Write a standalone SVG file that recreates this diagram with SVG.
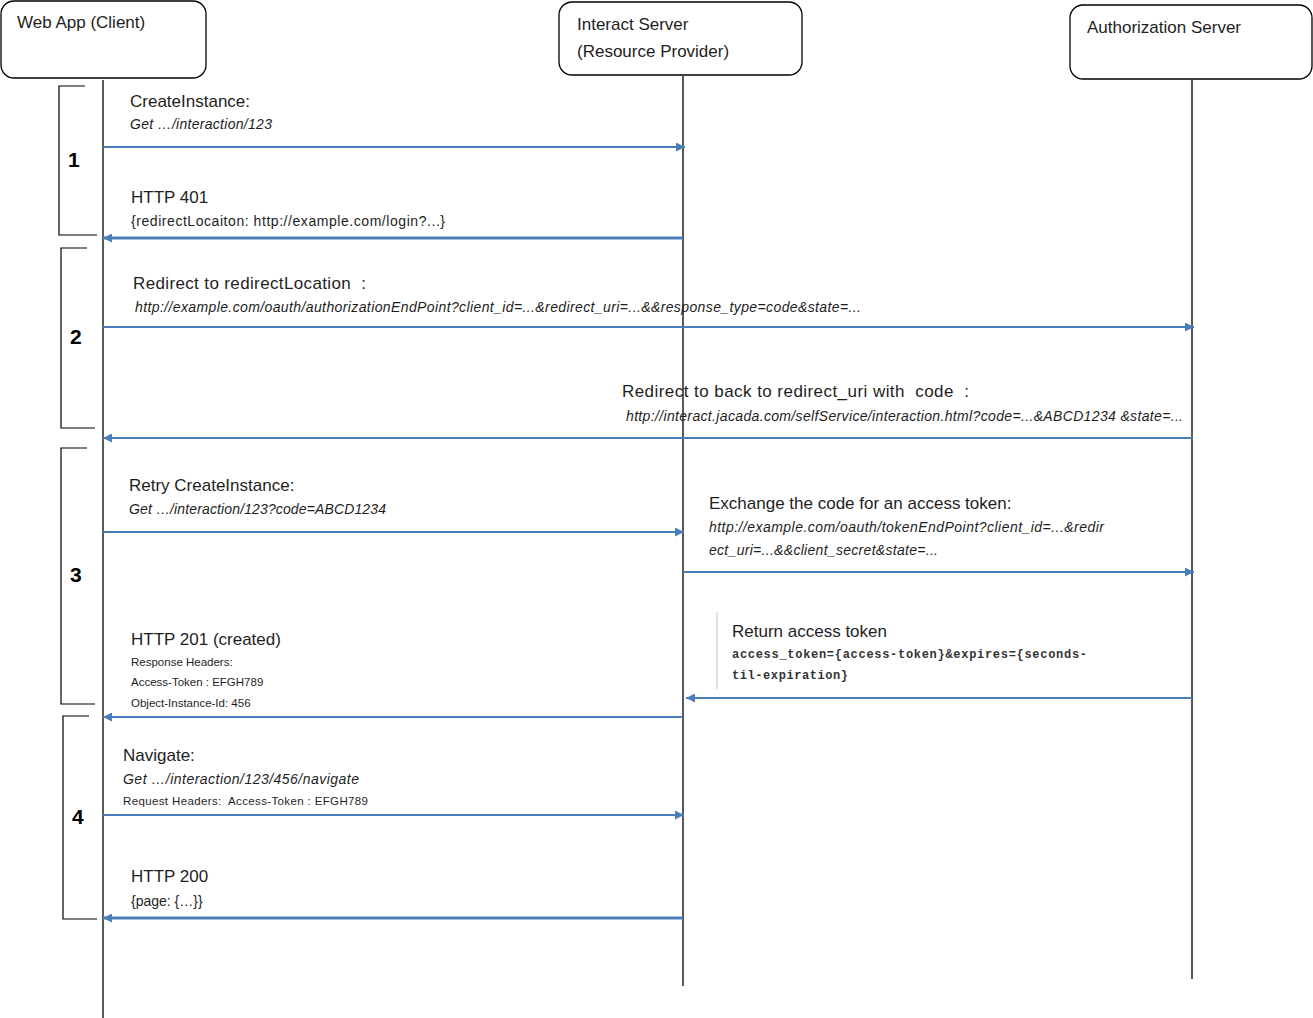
<svg xmlns="http://www.w3.org/2000/svg" width="1313" height="1018" viewBox="0 0 1313 1018">
<defs>
<marker id="ah" viewBox="0 0 10 10" refX="10" refY="5" markerWidth="11" markerHeight="9" markerUnits="userSpaceOnUse" orient="auto">
<path d="M0,0 L10,5 L0,10 z" fill="#4a7ebb"/>
</marker>
<style>
.box{fill:#fff;stroke:#000;stroke-width:1.3}
.life{stroke:#000;stroke-width:1.3;fill:none}
.br{stroke:#000;stroke-width:1.2;fill:none}
.msg{stroke:#4a7ebb;stroke-width:2;fill:none;marker-end:url(#ah)}
.thick{stroke-width:3}
.t{font-family:"Liberation Sans",Arial,sans-serif;fill:#1e1e1e;white-space:pre}
.h{font-size:17px}
.l{font-size:17px}
.u{font-size:14px;font-style:italic}
.p{font-size:14px}
.s{font-size:11.5px}
.n{font-family:"Liberation Sans",Arial,sans-serif;font-size:21px;font-weight:bold;fill:#000}
.m{font-family:"Liberation Mono","Courier New",monospace;font-size:12px;font-weight:bold;fill:#333}
</style>
</defs>

<g id="webapp">
<rect class="box" x="1" y="1" width="205" height="77" rx="13"/>
<text class="t h" x="17" y="28">Web App (Client)</text>
</g>
<g id="interact">
<rect class="box" x="559" y="2" width="243" height="73" rx="13"/>
<text class="t h" x="577" y="30">Interact Server</text>
<text class="t h" x="577" y="57">(Resource Provider)</text>
</g>
<g id="auth">
<rect class="box" x="1070" y="5" width="242" height="74" rx="13"/>
<text class="t h" x="1087" y="33">Authorization Server</text>
</g>

<g id="lifelines">
<line class="life" x1="103" y1="80" x2="103" y2="1018"/>
<line class="life" x1="683" y1="76" x2="683" y2="986"/>
<line class="life" x1="1192" y1="80" x2="1192" y2="979"/>
</g>

<g id="phases">
<g id="phase1">
<path class="br" d="M85,86 H59 V235 H97"/>
<text class="n" x="68" y="167">1</text>
</g>
<g id="phase2">
<path class="br" d="M87,248 H61 V428 H95"/>
<text class="n" x="70" y="344">2</text>
</g>
<g id="phase3">
<path class="br" d="M87,448 H61 V704 H95"/>
<text class="n" x="70" y="582">3</text>
</g>
<g id="phase4">
<path class="br" d="M89,716 H63 V919 H97"/>
<text class="n" x="72" y="824">4</text>
</g>
</g>

<g id="connectors">
<line class="msg" x1="103" y1="147" x2="685" y2="147"/>
<line class="msg thick" x1="683" y1="238" x2="103" y2="238"/>
<line class="msg" x1="103" y1="327" x2="1194" y2="327"/>
<line class="msg" x1="1193" y1="438" x2="103" y2="438"/>
<line class="msg" x1="103" y1="532" x2="684" y2="532"/>
<line class="msg" x1="683" y1="572" x2="1194" y2="572"/>
<line class="msg" x1="1192" y1="698" x2="686" y2="698"/>
<line class="msg" x1="683" y1="717" x2="103" y2="717"/>
<line class="msg" x1="103" y1="815" x2="684" y2="815"/>
<line class="msg thick" x1="683" y1="918" x2="103" y2="918"/>
</g>

<g id="labels">
<text class="t l" x="130" y="107">CreateInstance:</text>
<text class="t u" x="130" y="129" textLength="142" lengthAdjust="spacing">Get …/interaction/123</text>
<text class="t l" x="131" y="203">HTTP 401</text>
<text class="t p" x="131" y="226" textLength="314" lengthAdjust="spacing">{redirectLocaiton: http://example.com/login?...}</text>

<text class="t l" x="133" y="289" textLength="233" lengthAdjust="spacing">Redirect to redirectLocation  :</text>
<text class="t u" x="135" y="312" textLength="726" lengthAdjust="spacing">http://example.com/oauth/authorizationEndPoint?client_id=...&amp;redirect_uri=...&amp;&amp;response_type=code&amp;state=...</text>

<text class="t l" x="622" y="397" textLength="347" lengthAdjust="spacing">Redirect to back to redirect_uri with  code  :</text>
<text class="t u" x="626" y="421" textLength="557" lengthAdjust="spacing">http://interact.jacada.com/selfService/interaction.html?code=...&amp;ABCD1234 &amp;state=...</text>

<text class="t l" x="129" y="491">Retry CreateInstance:</text>
<text class="t u" x="129" y="514" textLength="257" lengthAdjust="spacing">Get …/interaction/123?code=ABCD1234</text>

<text class="t l" x="709" y="509">Exchange the code for an access token:</text>
<text class="t u" x="709" y="532" textLength="395" lengthAdjust="spacing">http://example.com/oauth/tokenEndPoint?client_id=...&amp;redir</text>
<text class="t u" x="709" y="555" textLength="229" lengthAdjust="spacing">ect_uri=...&amp;&amp;client_secret&amp;state=...</text>

<line x1="717" y1="612" x2="717" y2="689" stroke="#d9d9d9" stroke-width="1.5"/>
<text class="t l" x="732" y="637">Return access token</text>
<text class="m" x="732" y="658" textLength="355" lengthAdjust="spacing">access_token={access-token}&amp;expires={seconds-</text>
<text class="m" x="732" y="679" textLength="116" lengthAdjust="spacing">til-expiration}</text>

<text class="t l" x="131" y="645">HTTP 201 (created)</text>
<text class="t s" x="131" y="666">Response Headers:</text>
<text class="t s" x="131" y="686">Access-Token : EFGH789</text>
<text class="t s" x="131" y="707">Object-Instance-Id: 456</text>

<text class="t l" x="123" y="761">Navigate:</text>
<text class="t u" x="123" y="784" textLength="236" lengthAdjust="spacing">Get …/interaction/123/456/navigate</text>
<text class="t s" x="123" y="805" textLength="245" lengthAdjust="spacing">Request Headers:  Access-Token : EFGH789</text>

<text class="t l" x="131" y="882">HTTP 200</text>
<text class="t p" x="131" y="906">{page: {…}}</text>
</g>
</svg>
